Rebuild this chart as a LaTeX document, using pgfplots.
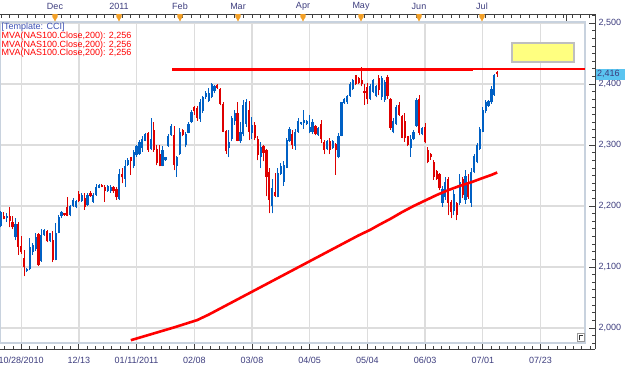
\documentclass[border=0pt]{standalone}
\usepackage{fontspec}
\setmainfont{Liberation Sans}
\usepackage{pgfplots}
\usepackage{pgfplotstable}
\pgfplotsset{compat=1.18}
\definecolor{upcol}{RGB}{0,96,196}
\definecolor{dncol}{RGB}{222,0,0}
\definecolor{macol}{RGB}{255,0,0}
\definecolor{gridcol}{RGB}{221,221,221}
\definecolor{boxcol}{RGB}{200,210,222}
\definecolor{labcol}{RGB}{60,60,125}
\definecolor{axcol}{RGB}{64,64,64}
\definecolor{tricol}{RGB}{242,160,40}
\definecolor{tmplcol}{RGB}{60,80,180}
\definecolor{yelcol}{RGB}{255,255,128}
\definecolor{cyancol}{RGB}{90,196,240}

\pgfplotstableread{
k o h l c
0 2167 2192 2165 2190
2 2180 2188 2174 2183
5 2150 2180 2144 2170
9 2094 2099 2092 2097
10 2096 2147 2095 2133
11 2125 2139 2120 2136
12 2130 2156 2127 2150
14 2110 2162 2109 2152
15 2153 2162 2151 2160
17 2142 2156 2141 2155
19 2112 2172 2111 2155
20 2156 2185 2155 2182
21 2183 2192 2180 2190
24 2185 2202 2183 2200
25 2200 2213 2199 2210
26 2198 2210 2196 2208
28 2208 2221 2207 2218
30 2202 2222 2200 2218
32 2207 2222 2205 2218
33 2218 2236 2217 2232
34 2230 2236 2229 2235
37 2224 2235 2223 2233
38 2224 2234 2222 2232
41 2212 2260 2210 2252
43 2245 2275 2232 2265
44 2268 2278 2266 2276
46 2265 2292 2262 2288
47 2283 2300 2281 2298
48 2285 2308 2284 2305
49 2295 2314 2289 2310
50 2307 2319 2306 2318
52 2294 2344 2292 2310
56 2266 2298 2265 2292
57 2275 2281 2274 2280
58 2299 2318 2297 2315
59 2316 2334 2315 2332
61 2265 2282 2248 2280
62 2286 2328 2284 2322
64 2300 2322 2296 2318
65 2320 2337 2319 2335
66 2338 2357 2336 2354
69 2342 2375 2338 2370
70 2355 2380 2353 2378
71 2378 2388 2376 2385
72 2372 2393 2371 2385
73 2378 2401 2377 2400
74 2388 2398 2385 2396
79 2295 2325 2280 2305
80 2310 2348 2306 2345
81 2340 2357 2333 2352
83 2306 2338 2303 2322
84 2318 2374 2314 2365
85 2335 2376 2330 2370
87 2320 2346 2310 2333
90 2280 2305 2262 2297
94 2200 2245 2188 2230
96 2215 2262 2214 2254
97 2252 2270 2251 2265
98 2240 2273 2233 2268
99 2263 2311 2262 2308
100 2307 2330 2305 2327
102 2298 2327 2292 2322
103 2322 2344 2320 2340
104 2334 2338 2333 2337
105 2336 2357 2327 2341
106 2334 2341 2333 2339
107 2322 2349 2319 2330
108 2322 2342 2318 2338
110 2317 2330 2315 2328
113 2293 2308 2292 2306
115 2295 2309 2294 2306
117 2280 2319 2278 2315
118 2315 2371 2314 2370
119 2369 2377 2368 2375
120 2370 2382 2368 2380
121 2381 2404 2379 2400
122 2392 2409 2390 2406
128 2376 2400 2374 2396
129 2387 2409 2385 2406
130 2380 2398 2378 2396
132 2378 2413 2374 2410
133 2374 2407 2371 2404
136 2322 2344 2319 2340
137 2335 2366 2333 2362
142 2295 2316 2281 2310
143 2310 2325 2308 2322
144 2332 2377 2330 2374
146 2318 2330 2316 2328
153 2205 2233 2199 2228
154 2215 2248 2210 2240
157 2192 2226 2185 2220
159 2205 2253 2202 2240
161 2210 2259 2204 2250
163 2205 2262 2199 2255
164 2256 2286 2254 2282
165 2272 2303 2270 2300
166 2294 2330 2292 2326
167 2322 2363 2321 2357
168 2355 2374 2352 2370
169 2364 2374 2363 2372
170 2370 2396 2368 2392
171 2382 2416 2381 2415
}\upbars

\pgfplotstableread{
k o h l c
1 2183 2191 2178 2179
3 2183 2198 2165 2175
4 2174 2183 2162 2166
6 2171 2173 2120 2133
7 2134 2151 2122 2124
8 2115 2128 2085 2100
13 2154 2156 2102 2104
16 2159 2160 2141 2142
18 2145 2159 2108 2112
22 2188 2189 2184 2185
23 2199 2215 2183 2184
27 2220 2225 2206 2208
29 2213 2221 2194 2199
31 2222 2224 2215 2216
35 2234 2236 2231 2232
36 2232 2234 2207 2224
39 2232 2233 2222 2224
40 2228 2232 2210 2214
42 2252 2262 2237 2247
45 2280 2281 2251 2274
51 2320 2322 2289 2292
53 2325 2338 2289 2292
54 2293 2300 2267 2270
55 2286 2300 2265 2266
60 2316 2331 2259 2267
63 2325 2327 2314 2316
67 2362 2364 2350 2355
68 2360 2364 2340 2345
75 2398 2400 2392 2393
76 2392 2394 2365 2368
77 2368 2370 2321 2322
78 2323 2325 2286 2290
82 2352 2371 2306 2307
86 2358 2372 2308 2322
88 2333 2338 2308 2311
89 2310 2314 2275 2283
91 2298 2300 2273 2287
92 2292 2293 2216 2248
93 2255 2262 2188 2210
95 2223 2254 2215 2216
101 2318 2325 2294 2300
109 2331 2333 2316 2318
111 2335 2341 2303 2310
112 2305 2308 2285 2292
114 2306 2311 2285 2292
116 2302 2303 2251 2292
123 2414 2415 2398 2400
124 2410 2412 2400 2402
125 2406 2428 2396 2400
126 2389 2400 2366 2386
127 2395 2401 2368 2375
131 2410 2415 2382 2390
134 2412 2415 2376 2380
135 2376 2377 2325 2328
138 2365 2371 2348 2350
139 2348 2349 2311 2312
140 2340 2352 2305 2312
141 2314 2315 2298 2300
145 2376 2382 2316 2320
147 2330 2336 2303 2305
148 2292 2297 2270 2272
149 2286 2287 2276 2280
150 2272 2275 2243 2248
151 2258 2259 2243 2245
152 2252 2254 2226 2230
155 2245 2248 2185 2205
156 2207 2210 2180 2190
158 2205 2207 2177 2185
160 2245 2248 2213 2218
162 2240 2252 2212 2214
172 2420 2421 2412 2416
}\downbars

\pgfplotsset{
  ohlc/.style={only marks, mark=*, mark size=0pt, mark options={draw=none, fill=none},
    error bars/.cd, y dir=plus, y explicit, error mark=none,
    error bar style={#1}},
}

\begin{document}
\begin{tikzpicture}
\useasboundingbox (0pt,-19pt) rectangle (625pt,349pt);
\begin{axis}[
  at={(0pt,0pt)}, anchor=south west,
  scale only axis, width=595pt, height=335pt,
  xmin=-0.3466, xmax=205.89, ymin=1965.6, ymax=2514.8,
  clip=false,
  separate axis lines,
  axis x line*=bottom, axis y line*=right,
  axis line style={axcol, line width=0.8pt},
  tick align=inside,
  xtick={7,27,47,67,87,107,127,147,167,187},
  xticklabels={10/28/2010,12/13,01/11/2011,02/08,03/08,04/05,05/04,06/03,07/01,07/23},
  minor xtick={1.2857,4.1429,...,205},
  ytick={2000,2100,2200,2300,2400,2500},
  yticklabels={{2,000},{2,100},{2,200},{2,300},{2,400},{2,500}},
  minor ytick={1975,1987.5,...,2513},
  major tick length=6pt, minor tick length=3.5pt,
  every tick/.style={axcol, line width=0.8pt},
  tick label style={font=\fontsize{9}{10}\selectfont, text=labcol},
  xticklabel style={yshift=-4pt},
]
% grid
\pgfplotsinvokeforeach{2000,2100,2200,2300,2400,2500}{
  \draw[gridcol, line width=1.3pt] (axis cs:-0.3466,#1) -- (axis cs:202.42,#1);
}
\pgfplotsinvokeforeach{7,27,47,67,87,107,127,147,167,187}{
  \draw[gridcol, line width=1.3pt] (axis cs:#1,1975.5) -- (axis cs:#1,2501.6);
}
\draw[boxcol, line width=1.5pt] (axis cs:-0.3466,1975.5) rectangle (axis cs:202.42,2501.6);
% wicks
\addplot[ohlc={upcol, line width=1pt}]
  table[x=k, y=l, y error expr=\thisrow{h}-\thisrow{l}] {\upbars};
\addplot[ohlc={dncol, line width=1pt}]
  table[x=k, y=l, y error expr=\thisrow{h}-\thisrow{l}] {\downbars};
% bodies
\addplot[ohlc={upcol, line width=2.2pt}]
  table[x=k, y=o, y error expr=\thisrow{c}-\thisrow{o}] {\upbars};
\addplot[ohlc={dncol, line width=2.2pt}]
  table[x=k, y=c, y error expr=\thisrow{o}-\thisrow{c}] {\downbars};
% 200-day moving average
\addplot[macol, line width=2.6pt] coordinates {
(45,1980) (50,1987) (55,1994) (60,2001) (64,2007) (68,2013) (72,2022) (76,2032)
(80,2042) (84,2052) (88,2062) (92,2072) (96,2082) (100,2092) (104,2102) (108,2112)
(112,2122) (116,2132) (120,2142) (124,2152) (128,2161) (131,2169) (135,2179)
(139,2190) (143,2200) (147,2209) (151,2218) (155,2226) (159,2233) (163,2239)
(167,2246) (170,2251) (172,2255)};
% resistance line
\addplot[macol, line width=2.4pt] coordinates {(59.3,2423.5) (163.5,2423.5)};
\addplot[macol, line width=2.4pt] coordinates {(163.5,2425) (202.42,2425)};
\end{axis}
% top axis line and ticks
\draw[axcol, line width=0.8pt] (0pt,335pt) -- (595pt,335pt);
\foreach \i in {0,...,68} {\draw[axcol, line width=0.8pt] ({1pt+8.655pt*\i},335pt) -- ++(0pt,-4pt);}
\draw[axcol, line width=0.8pt] (566pt,335pt) -- ++(0pt,-7pt);
% month markers
\foreach \x in {55,119,180,238,303,361,419,482}
  {\fill[tricol] ({\x pt-2.6pt},335pt) -- ({\x pt+2.6pt},335pt) -- ({\x pt+2.6pt},332pt) -- ({\x pt+0.6pt},329pt) -- ({\x pt+0.6pt},328pt) -- ({\x pt-0.6pt},328pt) -- ({\x pt-0.6pt},329pt) -- ({\x pt-2.6pt},332pt) -- cycle;}
% month labels
\foreach \x/\t in {55/Dec,119/2011,180/Feb,238/Mar,303/Apr,361/May,419/Jun,482/Jul}
  {\node[font=\fontsize{9}{10}\selectfont, text=labcol] at (\x pt,342.7pt) {\t};}
% legend text
\node[anchor=west, inner sep=0pt, font=\fontsize{9}{10}\selectfont, text=tmplcol] at (1.5pt,321.7pt) {[Template: CCI]};
\node[anchor=west, inner sep=0pt, font=\fontsize{9}{10}\selectfont, text=macol] at (1.5pt,313pt) {MVA(NAS100.Close,200): 2,256};
\node[anchor=west, inner sep=0pt, font=\fontsize{9}{10}\selectfont, text=macol] at (1.5pt,304.3pt) {MVA(NAS100.Close,200): 2,256};
\node[anchor=west, inner sep=0pt, font=\fontsize{9}{10}\selectfont, text=macol] at (1.5pt,295.7pt) {MVA(NAS100.Close,200): 2,256};
% yellow box
\draw[black!25, line width=1.5pt, fill=yelcol] (512pt,287pt) rectangle (574pt,306pt);
% last value label
\fill[cyancol] (595.5pt,269.5pt) rectangle (625pt,280.5pt);
\node[anchor=west, inner sep=0pt, font=\fontsize{9}{10}\selectfont, text=labcol] at (597pt,275pt) {2,416};
% resize icon
\draw[black!40, fill=white] (577pt,8pt) rectangle (584pt,16pt);
\draw[black!80, line width=1pt] (579.5pt,9pt) -- (579.5pt,13.5pt) -- (583pt,13.5pt);
\end{tikzpicture}
\end{document}
